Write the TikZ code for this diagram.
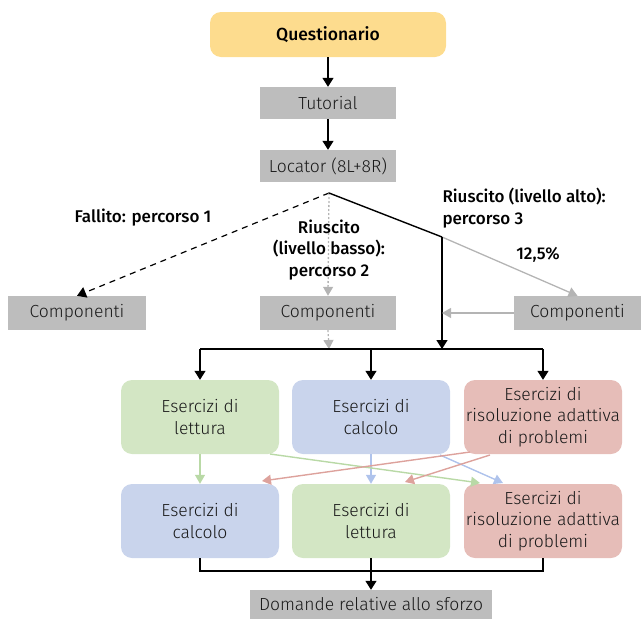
\documentclass[tikz,border=0pt]{standalone}
\usepackage{fontspec}
\setmainfont{Fira Sans}[UprightFont={* Light}, BoldFont={* Medium}]
\usetikzlibrary{arrows.meta}
\definecolor{qfill}{HTML}{FDDC8E}
\definecolor{gfill}{HTML}{BDBDBD}
\definecolor{grfill}{HTML}{D3E6C4}
\definecolor{blfill}{HTML}{C9D4EC}
\definecolor{rdfill}{HTML}{E6BDB8}
\definecolor{grline}{HTML}{B9D9A6}
\definecolor{blline}{HTML}{AFC3EC}
\definecolor{rdline}{HTML}{DDA29C}
\definecolor{gline}{HTML}{B4B4B4}
\definecolor{txt}{HTML}{1A1A1A}
\begin{document}
\begin{tikzpicture}[x=1pt,y=-1pt,
  every node/.style={font=\fontsize{17.5}{21.5}\selectfont, text=txt},
  graybox/.style={fill=gfill, draw=none, minimum height=32pt, inner sep=0pt},
  exbox/.style={draw=none, rounded corners=11pt, minimum width=158pt, minimum height=74pt, align=center, inner sep=0pt},
  lbl/.style={font=\fontsize{17}{21.5}\selectfont\bfseries, text=black},
  arr/.style={line width=1.4pt, -{Triangle[width=11pt,length=9pt]}},
  plain/.style={line width=1.4pt},
  garr/.style={line width=1.3pt, gline, -{Triangle[width=10pt,length=9pt]}},
  carr/.style={line width=1.4pt, -{Triangle[width=10pt,length=9pt]}}
]
\useasboundingbox (0,0) rectangle (641,619);

\node[fill=qfill, rounded corners=11pt, minimum width=236pt, minimum height=45pt, inner sep=0pt, font=\fontsize{17.5}{20}\selectfont\bfseries, text=black] (q) at (328,34.5) {Questionario};
\node[graybox, minimum width=136pt] (tut) at (328,103) {Tutorial};
\node[graybox, minimum width=136pt] (loc) at (328,166) {Locator (8L+8R)};

\node[graybox, minimum width=138pt, minimum height=34pt] (cl) at (77,313) {Componenti};
\node[graybox, minimum width=136pt, minimum height=34pt] (cm) at (328,313) {Componenti};
\node[graybox, minimum width=127pt, minimum height=34pt] (cr) at (577.5,313) {Componenti};

\node[exbox, fill=grfill] (r1a) at (200,417) {Esercizi di\\lettura};
\node[exbox, fill=blfill] (r1b) at (371,417) {Esercizi di\\calcolo};
\node[exbox, fill=rdfill] (r1c) at (543,417) {Esercizi di\\risoluzione adattiva\\di problemi};

\node[exbox, fill=blfill] (r2a) at (200,521) {Esercizi di\\calcolo};
\node[exbox, fill=grfill] (r2b) at (371,521) {Esercizi di\\lettura};
\node[exbox, fill=rdfill] (r2c) at (543,521) {Esercizi di\\risoluzione adattiva\\di problemi};

\node[graybox, minimum width=242pt, minimum height=29pt] (dom) at (371,604.5) {Domande relative allo sforzo};

% coordinates
\coordinate (br) at (329,193);
\coordinate (hi) at (442,237);
\coordinate (hb) at (442,349);
\coordinate (hm) at (442,313);
\coordinate (dm) at (329,349);
\coordinate (dl) at (200,349);
\coordinate (dc) at (371,349);
\coordinate (dr) at (543,349);
\coordinate (bl) at (200,571);
\coordinate (bm) at (371,571);
\coordinate (brr) at (543,571);

\draw[arr] (q) -- (tut);
\draw[arr] (tut) -- (loc);

\draw[line width=1.2pt, dash pattern=on 6pt off 5pt, -{Triangle[width=11pt,length=9pt]}] (br) -- (cl.north);
\draw[line width=1.3pt, gline, dash pattern=on 2pt off 2pt, -{Triangle[width=10pt,length=9pt]}] (br) -- (cm.north);
\draw[line width=1.3pt, gline, dash pattern=on 2pt off 2pt, -{Triangle[width=10pt,length=9pt]}] (cm.south) -- (dm);
\draw[plain] (br) -- (hi);
\draw[garr] (hi) -- (cr.north);
\draw[arr] (hi) -- (hb);
\draw[garr] (cr.west) -- (hm);

\draw[plain] (dl) -- (dr);
\draw[arr] (dl) -- (r1a.north);
\draw[arr] (dc) -- (r1b.north);
\draw[arr] (dr) -- (r1c.north);

% between rows
\draw[carr, grline] (r1a.south) -- (r2a.north);
\draw[carr, blline] (r1b.south) -- (r2b.north);
\coordinate (gs) at (270,454);
\coordinate (ge) at (480,483);
\coordinate (bs) at (440,455);
\coordinate (be) at (503,483);
\coordinate (rs1) at (470,452);
\coordinate (re1) at (262,481);
\coordinate (rs2) at (490,455);
\coordinate (re2) at (405,482);
\draw[carr, grline] (gs) -- (ge);
\draw[carr, blline] (bs) -- (be);
\draw[carr, rdline] (rs1) -- (re1);
\draw[carr, rdline] (rs2) -- (re2);

\draw[plain] (r2a.south) -- (bl) -- (brr) -- (r2c.south);
\draw[plain] (r2b.south) -- (bm);
\draw[arr] (bm) -- (dom.north);

% labels
\node[lbl] (l1) at (143,218) {Fallito: percorso 1};
\node[lbl, align=center] (l2) at (329,250) {Riuscito\\(livello basso):\\percorso 2};
\node[lbl, align=left, anchor=west] (l3) at (439,208) {Riuscito (livello alto):\\percorso 3};
\node[lbl] (l4) at (538,255) {12,5\%};
\end{tikzpicture}
\end{document}
